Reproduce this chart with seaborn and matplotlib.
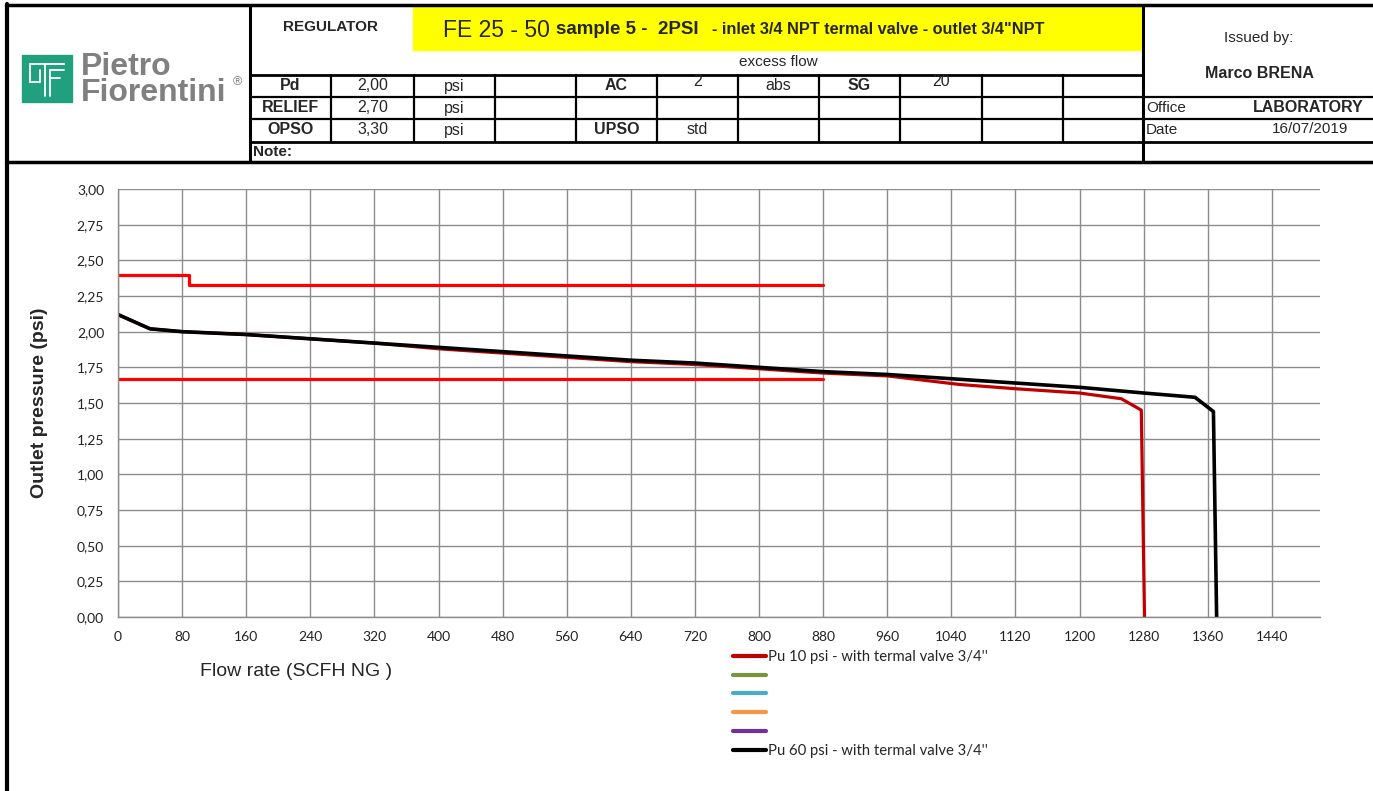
import numpy as np
import pandas as pd
import matplotlib.pyplot as plt
import seaborn as sns
from matplotlib.lines import Line2D
from matplotlib.patches import Rectangle
from matplotlib.ticker import FuncFormatter

# curve data (read from the test sheet)
flow_10 = [0, 40, 80, 160, 240, 320, 400, 480, 560, 640, 720, 800, 880, 960, 1050, 1120, 1200, 1252, 1277, 1281]
press_10 = [2.12, 2.02, 2.00, 1.98, 1.95, 1.92, 1.88, 1.85, 1.82, 1.79, 1.77, 1.74, 1.71, 1.69, 1.63, 1.60, 1.57, 1.53, 1.45, 0.00]
flow_60 = [0, 40, 80, 160, 240, 320, 400, 480, 560, 640, 720, 800, 880, 960, 1040, 1120, 1200, 1280, 1344, 1367, 1371]
press_60 = [2.12, 2.02, 2.00, 1.98, 1.95, 1.92, 1.89, 1.86, 1.83, 1.80, 1.78, 1.75, 1.72, 1.70, 1.67, 1.64, 1.61, 1.57, 1.54, 1.44, 0.00]

# tolerance band lines
upper_flow = [0, 88, 88, 880]
upper_press = [2.40, 2.40, 2.33, 2.33]
lower_flow = [0, 880]
lower_press = [1.67, 1.67]

x_ticks = list(range(0, 1441, 80))
y_ticks = [0, 0.25, 0.5, 0.75, 1.0, 1.25, 1.5, 1.75, 2.0, 2.25, 2.5, 2.75, 3.0]

legend_labels = ["Pu 10 psi - with termal valve 3/4''", "", "", "", "", "Pu 60 psi - with termal valve 3/4''"]
legend_colors = ["#c00000", "#77933c", "#4bacc6", "#f79646", "#7030a0", "#000000"]

# header table
row_pd = ["Pd", "2,00", "psi", "", "AC", "2", "abs", "SG", "20", "", ""]
row_relief = ["RELIEF", "2,70", "psi", "", "", "", "", "", "", "", ""]
row_opso = ["OPSO", "3,30", "psi", "", "UPSO", "std", "", "", "", "", ""]
bold_cells = ["Pd", "RELIEF", "OPSO", "AC", "SG", "UPSO"]

W, H = 1373, 791


def fx(x):
    return x / W


def fy(y):
    return 1 - y / H


sns.set_theme(style="white")
plt.rcParams['font.family'] = ['Liberation Sans', 'DejaVu Sans']

fig = plt.figure(figsize=(W / 100, H / 100), dpi=100)


def hline(y, x0, x1, lw=2.0):
    fig.add_artist(Line2D([fx(x0), fx(x1)], [fy(y), fy(y)], color='black', lw=lw, transform=fig.transFigure))


def vline(x, y0, y1, lw=2.0):
    fig.add_artist(Line2D([fx(x), fx(x)], [fy(y0), fy(y1)], color='black', lw=lw, transform=fig.transFigure))


# yellow title box
fig.add_artist(Rectangle((fx(413), fy(50)), fx(1143) - fx(413), fy(6) - fy(50),
                         color='#ffff00', transform=fig.transFigure, zorder=0))

# frame of the header
hline(5, 6, 1373, lw=2.5)
hline(162, 6, 1373, lw=2.5)
vline(7, 4, 791, lw=3.0)
vline(250, 5, 162, lw=2.2)
vline(1143, 5, 162, lw=2.2)
hline(75, 250, 1143)
hline(97, 250, 1373, lw=1.6)
hline(119, 250, 1373, lw=1.6)
hline(142, 250, 1373, lw=2.0)
cols = [250, 331, 414, 495, 576, 657, 738, 819, 900, 982, 1063, 1143]
for c in cols[1:-1]:
    vline(c, 75, 142, lw=1.6)

# logo
fig.add_artist(Rectangle((fx(22), fy(102)), fx(72) - fx(22), fy(55) - fy(102),
                         color='#21a07f', transform=fig.transFigure))
logo_strokes = [([30, 64], [64, 64]), ([30, 30], [64, 82]), ([30, 40], [82, 82]), ([40, 40], [82, 70]),
                ([45, 45], [64, 96]), ([50, 50], [70, 96]), ([50, 64], [70, 70]), ([45, 64], [64, 64]),
                ([50, 60], [78, 78])]
for xs, ys in logo_strokes:
    fig.add_artist(Line2D([fx(v) for v in xs], [fy(v) for v in ys], color='white', lw=1.3,
                          transform=fig.transFigure))
fig.text(fx(81), fy(80), "Pietro\nFiorentini", fontsize=23, fontweight='bold', color='#808080',
         va='center', ha='left', multialignment='left', linespacing=0.8)
fig.text(fx(233), fy(85), "®", fontsize=9, color='#808080', va='baseline')

# title texts
fig.text(fx(331), fy(27), "REGULATOR", fontsize=11, fontweight='bold', ha='center', va='center')
fig.text(fx(443), fy(37), "FE 25 - 50", fontsize=16.5, va='baseline')
fig.text(fx(556), fy(34), "sample 5 -  2PSI", fontsize=13.5, fontweight='bold', va='baseline')
fig.text(fx(712), fy(34), "- inlet 3/4 NPT termal valve - outlet 3/4\"NPT", fontsize=11.7,
         fontweight='bold', va='baseline')
fig.text(fx(778), fy(62), "excess flow", fontsize=11, ha='center', va='center')

for row, yc in [(row_pd, 86), (row_relief, 108), (row_opso, 130)]:
    for i, txt in enumerate(row):
        if not txt:
            continue
        xc = (cols[i] + cols[i + 1]) / 2
        y_txt = yc - 4 if txt in ("2", "20") else yc
        fig.text(fx(xc), fy(y_txt), txt, fontsize=11.5, ha='center', va='center',
                 fontweight='bold' if txt in bold_cells else 'normal')
fig.text(fx(253), fy(152), "Note:", fontsize=11, fontweight='bold', va='center')

# issued-by block
fig.text(fx(1259), fy(38), "Issued by:", fontsize=11, ha='center', va='center')
fig.text(fx(1259), fy(73), "Marco BRENA", fontsize=11.5, fontweight='bold', ha='center', va='center')
fig.text(fx(1146), fy(108), "Office", fontsize=11, va='center')
fig.text(fx(1364), fy(107), "LABORATORY", fontsize=11.5, fontweight='bold', ha='right', va='center')
fig.text(fx(1146), fy(130), "Date", fontsize=11, va='center')
fig.text(fx(1310), fy(129), "16/07/2019", fontsize=11, ha='center', va='center')

# chart
ax = fig.add_axes([fx(118), fy(617), fx(1320) - fx(118), fy(189) - fy(617)])

sns.lineplot(x=upper_flow, y=upper_press, sort=False, estimator=None, color='#ff0000', lw=2.3, ax=ax)
sns.lineplot(x=lower_flow, y=lower_press, sort=False, estimator=None, color='#ff0000', lw=2.3, ax=ax)
df10 = pd.DataFrame({'flow': flow_10, 'pressure': press_10})
df60 = pd.DataFrame({'flow': flow_60, 'pressure': press_60})
sns.lineplot(data=df10, x='flow', y='pressure', sort=False, estimator=None, color='#c00000', lw=2.3, ax=ax)
sns.lineplot(data=df60, x='flow', y='pressure', sort=False, estimator=None, color='black', lw=2.6, ax=ax)

ax.set_xlim(0, 1500)
ax.set_ylim(0, 3.0)
ax.set_xticks(x_ticks)
ax.set_yticks(y_ticks)
ax.yaxis.set_major_formatter(FuncFormatter(lambda v, p: f"{v:.2f}".replace('.', ',')))
ax.grid(True, color='#8c8c8c', lw=1.0)
ax.set_axisbelow(True)
for s in ['top', 'right']:
    ax.spines[s].set_visible(False)
for s in ['left', 'bottom']:
    ax.spines[s].set_color('#8c8c8c')
    ax.spines[s].set_linewidth(1.0)
ax.tick_params(axis='both', which='both', direction='out', length=4, width=1.0, color='#8c8c8c',
               labelsize=10, labelcolor='#222222', pad=6)
for lab in ax.get_xticklabels() + ax.get_yticklabels():
    lab.set_family('Lato')
ax.set_xlabel("")
ax.set_ylabel("")

fig.text(fx(40), fy(403), "Outlet pressure (psi)", fontsize=14, fontweight='bold', rotation=90,
         ha='center', va='center')
fig.text(fx(296), fy(672), "Flow rate (SCFH NG )", fontsize=14, ha='center', va='center')

handles = [Line2D([0], [0], color=c, lw=3) for c in legend_colors]
fig.legend(handles, legend_labels, loc='upper left', bbox_to_anchor=(fx(733), fy(650)), frameon=False,
           prop={'family': 'Lato', 'size': 10.7}, handlelength=2.2, handletextpad=0.15,
           labelspacing=0.32, borderaxespad=0, borderpad=0)

fig.savefig('out.png', dpi=100)
